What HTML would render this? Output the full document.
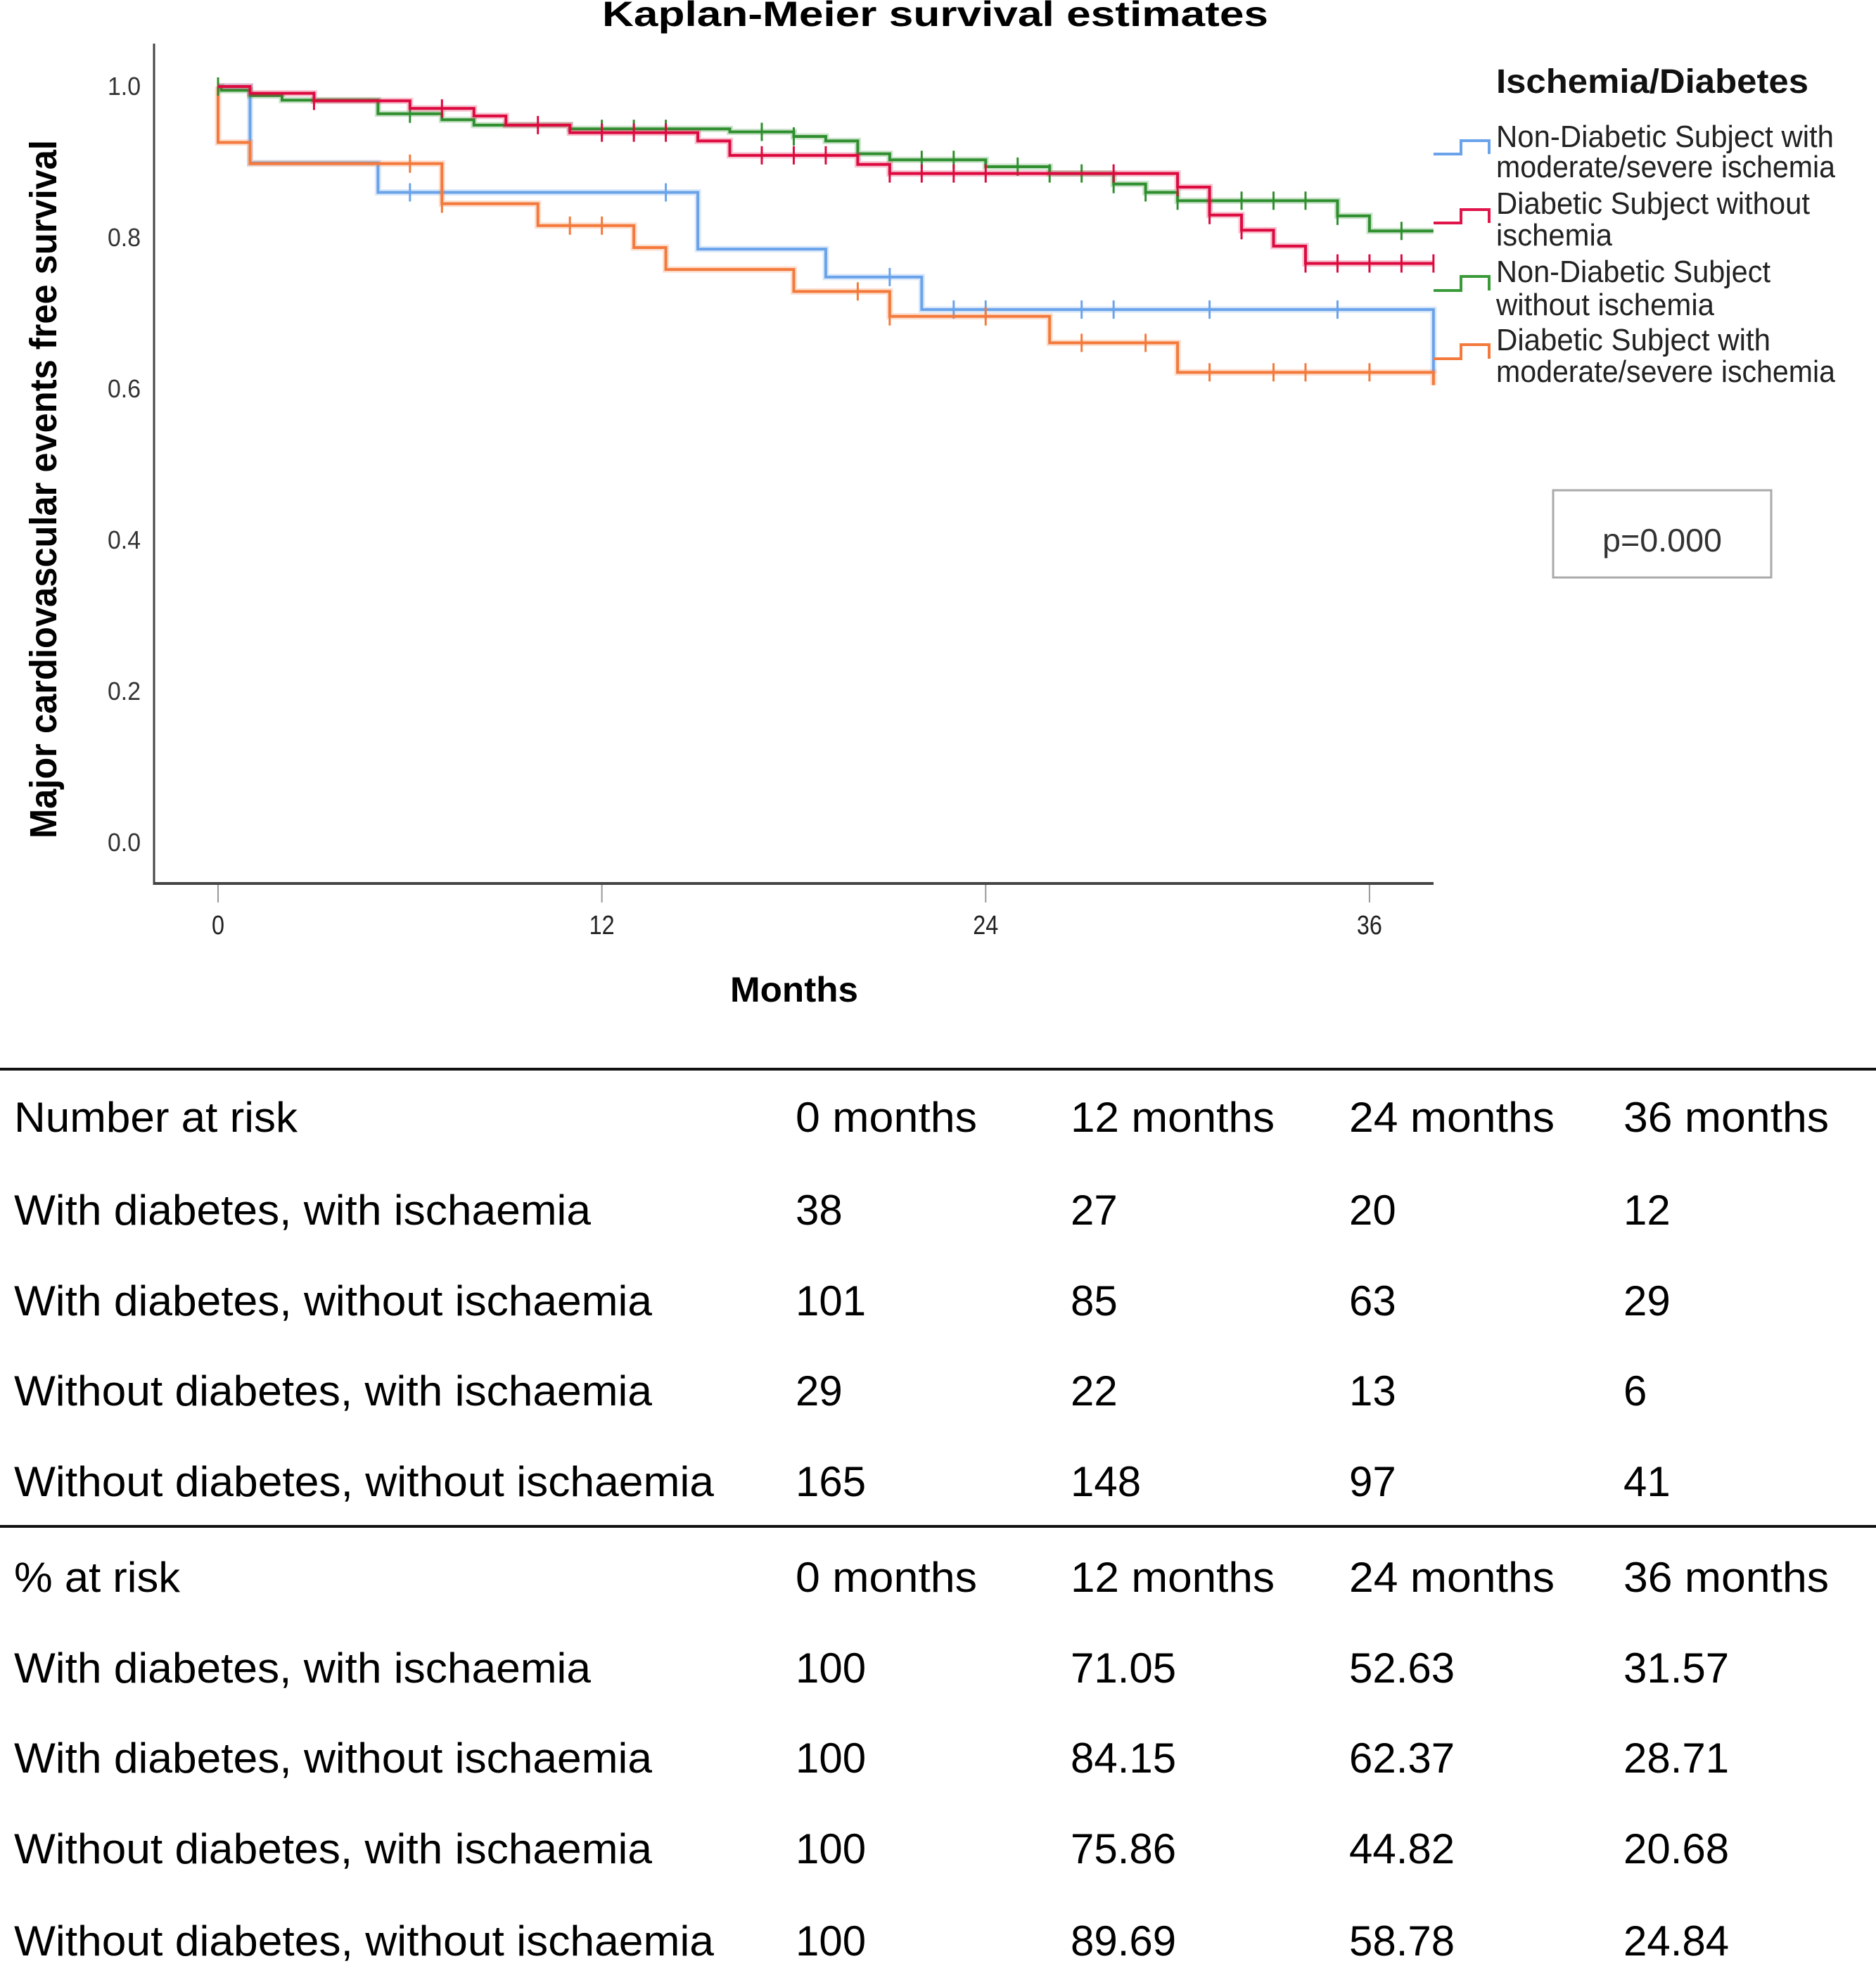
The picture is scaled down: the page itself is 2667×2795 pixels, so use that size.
<!DOCTYPE html>
<html><head><meta charset="utf-8"><style>
html,body{margin:0;padding:0;background:#fff;}
svg{display:block;}
text{font-family:"Liberation Sans",sans-serif;}
</style></head><body>
<svg id="chart" width="2667" height="2795" viewBox="0 0 2667 2795" xmlns="http://www.w3.org/2000/svg">
<text x="856" y="37" font-size="50" font-weight="bold" textLength="947" lengthAdjust="spacingAndGlyphs">Kaplan-Meier survival estimates</text>
<text transform="translate(80,1192) rotate(-90)" font-size="54" font-weight="bold" textLength="993" lengthAdjust="spacingAndGlyphs">Major cardiovascular events free survival</text>
<text x="1129" y="1424" font-size="50" font-weight="bold" text-anchor="middle" textLength="182" lengthAdjust="spacingAndGlyphs">Months</text>
<g id="axes"></g>
<g id="curves"></g>
<g>
<text x="2127" y="132" font-size="48" font-weight="bold" textLength="444" lengthAdjust="spacingAndGlyphs" fill="#111">Ischemia/Diabetes</text>
<g font-size="44" fill="#222">
<text x="2127" y="209" textLength="480" lengthAdjust="spacingAndGlyphs">Non-Diabetic Subject with</text>
<text x="2127" y="252" textLength="482" lengthAdjust="spacingAndGlyphs">moderate/severe ischemia</text>
<text x="2127" y="304" textLength="446" lengthAdjust="spacingAndGlyphs">Diabetic Subject without</text>
<text x="2127" y="349" textLength="165" lengthAdjust="spacingAndGlyphs">ischemia</text>
<text x="2127" y="401" textLength="390" lengthAdjust="spacingAndGlyphs">Non-Diabetic Subject</text>
<text x="2127" y="448" textLength="310" lengthAdjust="spacingAndGlyphs">without ischemia</text>
<text x="2127" y="498" textLength="390" lengthAdjust="spacingAndGlyphs">Diabetic Subject with</text>
<text x="2127" y="543" textLength="482" lengthAdjust="spacingAndGlyphs">moderate/severe ischemia</text>
</g>
<g fill="none" stroke-width="4">
<path d="M2038,219 H2077 V200 H2117 V219" stroke="#6aa3ea"/>
<path d="M2038,317 H2077 V298 H2117 V317" stroke="#e0144a"/>
<path d="M2038,413 H2077 V393 H2117 V413" stroke="#3a9a3a"/>
<path d="M2038,510 H2077 V490 H2117 V510" stroke="#f37a3c"/>
</g>
</g>
<rect x="2208" y="697" width="310" height="124" fill="#fff" stroke="#aaa" stroke-width="3"/>
<text x="2363" y="784" font-size="46" fill="#333" text-anchor="middle" textLength="170" lengthAdjust="spacingAndGlyphs">p=0.000</text>

<g>
<rect x="0" y="1518" width="2667" height="4" fill="#111"/>
<rect x="0" y="2168" width="2667" height="4" fill="#111"/>
<g id="tables" font-size="60" fill="#000"></g>
</g>
</svg>
<script>
// ---- chart data ----
const xTicks = [0, 12, 24, 36];
const yTicks = [0.0, 0.2, 0.4, 0.6, 0.8, 1.0];
const yTickLabels = ["0.0", "0.2", "0.4", "0.6", "0.8", "1.0"];
const blueTimes = [1, 5, 15, 19, 22, 38];
const blueSurv = [0.899, 0.860, 0.785, 0.748, 0.705, 0.62];
const blueCensor = [6, 14, 21, 23, 24, 27, 28, 31, 35];
const redTimes = [1, 3, 6, 8, 9, 11, 15, 16, 20, 21, 30, 31, 32, 33, 34];
const redSurv = [0.991, 0.981, 0.971, 0.961, 0.949, 0.939, 0.928, 0.909, 0.897, 0.885, 0.867, 0.830, 0.810, 0.789, 0.766];
const redCensor = [3, 7, 10, 12, 13, 14, 17, 18, 19, 21, 22, 23, 24, 28, 30, 31, 32, 34, 35, 36, 37, 38];
const greenTimes = [0.1, 1, 2, 5, 7, 8, 11, 16, 18, 19, 20, 21, 24, 26, 28, 29, 30, 35, 36];
const greenSurv = [0.995, 0.988, 0.982, 0.964, 0.956, 0.949, 0.944, 0.940, 0.934, 0.928, 0.911, 0.903, 0.894, 0.885, 0.871, 0.860, 0.849, 0.829, 0.809];
const greenCensor = [0, 6, 12, 13, 14, 17, 18, 20, 22, 23, 25, 26, 27, 28, 29, 30, 31, 32, 33, 34, 35, 37];
const orangeTimes = [0, 1, 7, 10, 13, 14, 18, 21, 26, 30, 38];
const orangeSurv = [0.926, 0.898, 0.845, 0.816, 0.787, 0.758, 0.729, 0.696, 0.661, 0.622, 0.605];
const orangeCensor = [6, 7, 11, 12, 20, 21, 24, 27, 29, 31, 33, 34, 36];
const endTime = 38;

// ---- table data ----
const tableCols = ["0 months", "12 months", "24 months", "36 months"];
const rowLabels = ["With diabetes, with ischaemia", "With diabetes, without ischaemia", "Without diabetes, with ischaemia", "Without diabetes, without ischaemia"];
const countValues = [["38","27","20","12"],["101","85","63","29"],["29","22","13","6"],["165","148","97","41"]];
const pctValues = [["100","71.05","52.63","31.57"],["100","84.15","62.37","28.71"],["100","75.86","44.82","20.68"],["100","89.69","58.78","24.84"]];

const NS = "http://www.w3.org/2000/svg";
function xs(m){ return 310 + m * 45.47; }
function ys(s){ return 1198 - s * 1075; }
function mk(tag, attrs, parent){ const e = document.createElementNS(NS, tag); for (const k in attrs) e.setAttribute(k, attrs[k]); parent.appendChild(e); return e; }

const axes = document.getElementById('axes');
const yl = mk('line', {x1:219, y1:62, x2:219, y2:1258, stroke:'#444', 'stroke-width':3}, axes);


const xl = mk('line', {x1:218, y1:1256, x2:2038, y2:1256, stroke:'#444', 'stroke-width':4}, axes);


xTicks.forEach(function(t){
  const tk = mk('line', {x1:xs(t), y1:1258, x2:xs(t), y2:1283, stroke:'#999', 'stroke-width':2}, axes);
  
  
  const lb = mk('text', {x:xs(t), y:1328, 'font-size':38, fill:'#222', 'text-anchor':'middle', textLength:String(t).length*18, lengthAdjust:'spacingAndGlyphs'}, axes);
  lb.textContent = String(t);
  
  
});
yTicks.forEach(function(v, i){
  const lb = mk('text', {x:153, y:ys(v)+12, 'font-size':36, fill:'#333', textLength:47, lengthAdjust:'spacingAndGlyphs'}, axes);
  lb.textContent = yTickLabels[i];
  
  
});

const curves = document.getElementById('curves');
function survAt(times, surv, t){ let s = 1; for (let i = 0; i < times.length; i++){ if (times[i] <= t) s = surv[i]; } return s; }
function drawSeries(name, color, times, surv, censor){
  let d = 'M' + xs(0) + ',' + ys(1);
  for (let i = 0; i < times.length; i++){
    d += ' H' + xs(times[i]) + ' V' + ys(surv[i]);
  }
  d += ' H' + xs(endTime);
  const g = mk('g', {}, curves);
  
  
  const halo = mk('path', {d:d, fill:'none', stroke:color, 'stroke-width':9, 'stroke-opacity':0.25}, g);
  
  
  const p = mk('path', {d:d, fill:'none', stroke:color, 'stroke-width':4}, g);
  
  
  censor.forEach(function(t){
    const y = ys(survAt(times, surv, t));
    const c = mk('line', {x1:xs(t), y1:y-13, x2:xs(t), y2:y+13, stroke:color, 'stroke-width':3}, g);
    
    
  });
}
drawSeries('blue', '#6aa3ea', blueTimes, blueSurv, blueCensor);
drawSeries('orange', '#f37a3c', orangeTimes, orangeSurv, orangeCensor);
drawSeries('green', '#2f8f2f', greenTimes, greenSurv, greenCensor);
drawSeries('red', '#dd0a40', redTimes, redSurv, redCensor);

const tables = document.getElementById('tables');
const colX = [1131, 1522, 1918, 2308];
const labelW = [820, 907, 907, 995];
const headerW = [258, 290, 292, 292];
function drawBlock(title, titleW, baseHeader, bases, values, blockName){
  const h = mk('text', {x:20, y:baseHeader, textLength:titleW, lengthAdjust:'spacingAndGlyphs'}, tables);
  h.textContent = title;
  
  
  tableCols.forEach(function(c, j){
    const t = mk('text', {x:colX[j], y:baseHeader, textLength:headerW[j], lengthAdjust:'spacingAndGlyphs'}, tables);
    t.textContent = c;
    
    
  });
  rowLabels.forEach(function(r, i){
    const t = mk('text', {x:20, y:bases[i], textLength:labelW[i], lengthAdjust:'spacingAndGlyphs'}, tables);
    t.textContent = r;
    
    
    values[i].forEach(function(v, j){
      const c = mk('text', {x:colX[j], y:bases[i]}, tables);
      c.textContent = v;
      
      
    });
  });
}
drawBlock('Number at risk', 403, 1609, [1741, 1870, 1998, 2127], countValues, 'count-table');
drawBlock('% at risk', 236, 2263, [2392, 2520, 2649, 2780], pctValues, 'percent-table');
</script>
</body></html>
